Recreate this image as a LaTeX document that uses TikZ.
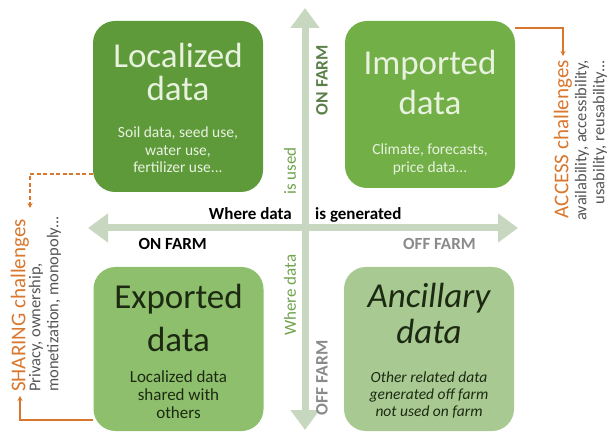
\documentclass[tikz,border=0pt]{standalone}
\usepackage{fontspec}
\setmainfont{Carlito}
\usetikzlibrary{arrows.meta, positioning, calc}
\definecolor{locgreen}{HTML}{5E9A3A}
\definecolor{impgreen}{HTML}{72AF47}
\definecolor{expgreen}{HTML}{8EBF6C}
\definecolor{ancgreen}{HTML}{A9C993}
\definecolor{axisgray}{HTML}{C8D8C0}
\definecolor{chalorange}{HTML}{D9772E}
\definecolor{lighttext}{HTML}{E8F2DF}
\definecolor{darktext}{HTML}{1C2A12}
\definecolor{labelgreen}{HTML}{6FA34C}
\definecolor{labeldark}{HTML}{5B7F48}
\definecolor{farmgray}{HTML}{8A8A8A}
\definecolor{notegray}{HTML}{555555}

\begin{document}
\begin{tikzpicture}[
    x=1pt, y=1pt,
    quad/.style={rounded corners=22pt, minimum width=170pt, inner sep=0pt},
    quadtitle/.style={font=\fontsize{35}{#1}\selectfont, align=center, inner sep=0pt},
    quadtitle/.default=33,
    quadnote/.style={font=\fontsize{15.5}{17.5}\selectfont, align=center, inner sep=0pt},
    axis/.style={line width=7pt, axisgray, {Triangle[length=20pt,width=28pt]}-{Triangle[length=20pt,width=28pt]}},
    axislabel/.style={font=\fontsize{17}{17}\selectfont\bfseries, inner sep=0pt, text height=12pt, text depth=3pt},
    sidelabel/.style={font=\fontsize{17}{17}\selectfont, rotate=90, inner sep=0pt},
    chalhead/.style={font=\fontsize{21}{21}\selectfont, text=chalorange, rotate=90, inner sep=0pt},
    chalnote/.style={font=\fontsize{16.5}{18}\selectfont, text=notegray, rotate=90, inner sep=0pt},
    chalarrow/.style={chalorange, line width=1.6pt, -{Stealth[length=5pt,width=5pt]}}
]
    \useasboundingbox (0,0) rectangle (610,434);

    % axes
    \coordinate (c) at (305,206);
    \coordinate (axl) at (88,206);
    \coordinate (axr) at (518,206);
    \coordinate (axt) at (305,426);
    \coordinate (axb) at (305,4);
    \draw[axis] (axl) -- (axr);
    \draw[axis] (axb) -- (axt);

    % quadrants
    \node[quad, fill=locgreen, minimum height=171pt] (loc) at (178,327.5) {};
    \node[quad, fill=impgreen, minimum height=167pt] (imp) at (430,329.5) {};
    \node[quad, fill=expgreen, minimum height=164pt] (exp) at (178.5,85) {};
    \node[quad, fill=ancgreen, minimum height=164pt] (anc) at (429,85) {};

    \node[quadtitle=33, text=lighttext, below=22pt of loc.north] (loctitle) {Localized\\data};
    \node[quadnote, text=lighttext, below=26pt of loctitle] (locnote) {Soil data, seed use,\\water use,\\fertilizer use...};

    \node[quadtitle=40, text=lighttext, below=29pt of imp.north] (imptitle) {Imported\\data};
    \node[quadnote, text=lighttext, below=29pt of imptitle] (impnote) {Climate, forecasts,\\price data...};

    \node[quadtitle=43, text=darktext, below=17pt of exp.north] (exptitle) {Exported\\data};
    \node[quadnote, font=\fontsize{17}{18}\selectfont, text=darktext, below=19pt of exptitle] (expnote) {Localized data\\shared with\\others};

    \node[quadtitle=36, font=\fontsize{35}{36}\selectfont\itshape, text=darktext, below=16pt of anc.north] (anctitle) {Ancillary\\data};
    \node[quadnote, font=\fontsize{15.5}{17}\selectfont\itshape, text=darktext, below=28pt of anctitle] (ancnote) {Other related data\\generated off farm\\not used on farm};

    % axis labels
    \node[axislabel, above left=5pt and 13pt of c] (genleft) {Where data};
    \node[axislabel, above right=5pt and 10pt of c] (genright) {is generated};
    \node[axislabel, below left=9pt and 98pt of c] (onfarmh) {ON FARM};
    \node[axislabel, text=farmgray, below right=9pt and 98pt of c] (offfarmh) {OFF FARM};

    \node[sidelabel, text=labelgreen] (isused) at (290,263) {is used};
    \node[sidelabel, font=\fontsize{17.5}{17.5}\selectfont\bfseries, text=labeldark] (onfarmv) at (322,354) {ON FARM};
    \node[sidelabel, text=labelgreen] (usedwhere) at (290,139) {Where data};
    \node[sidelabel, font=\fontsize{17.5}{17.5}\selectfont\bfseries, text=farmgray] (offfarmv) at (322,56) {OFF FARM};

    % challenges
    \node[chalhead, anchor=east] (acchead) at (563,374) {ACCESS challenges};
    \node[chalnote, anchor=east, align=right] (accnote) at (591,374) {availability, accessibility,\\usability, reusability...};
    \node[chalhead, anchor=west] (sharehead) at (20,42) {SHARING challenges};
    \node[chalnote, anchor=west, align=left] (sharenote) at (45,42) {Privacy, ownership,\\monetization, monopoly...};

    \coordinate (sharetop) at (30,226);
    \draw[chalarrow] ([yshift=-7pt]imp.north east) -| ([yshift=4pt]acchead.east);
    \draw[chalarrow, dash pattern=on 4pt off 2.5pt] ([yshift=18pt]loc.south west) -| (sharetop);
    \draw[chalarrow] ([yshift=11pt]exp.south west) -| ([yshift=-4pt]sharehead.west);
\end{tikzpicture}
\end{document}
